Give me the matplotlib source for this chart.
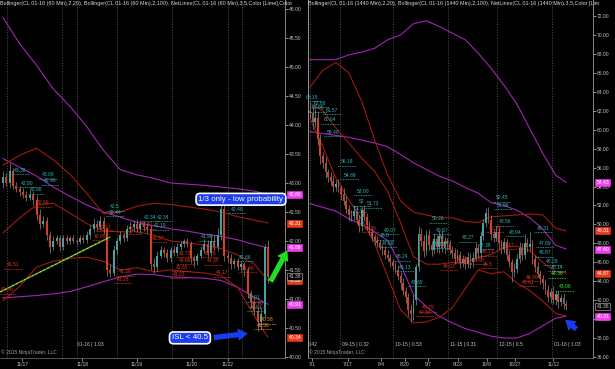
import matplotlib
matplotlib.use("Agg")
import matplotlib.pyplot as plt
import numpy as np

plt.rcParams["font.family"] = ["Liberation Sans", "DejaVu Sans"]

UP = "#46a2a2"
DN = "#cf4229"
WICK = "#8c8c8c"
BB20 = "#a01a10"
BB100 = "#a424b4"
CYAN = "#2fb2b2"
RED = "#e2331f"
LIME = "#33ee33"
ORANGE = "#e89a20"
GRAY = "#c4c4c4"
MAG_TAG = "#f040f0"
RED_TAG = "#ee3a1c"
FS = 3.6

# ---------------- 60 min chart (left) ----------------
h1_open0 = 43.00
h1_close = [43.10, 43.00, 43.20, 42.95, 42.90, 42.85, 42.80, 42.75, 42.80, 42.70,
            42.45, 42.30, 42.35, 42.10, 41.90, 42.00, 42.05, 41.90, 42.05, 42.00,
            42.05, 42.00, 41.98, 42.05, 42.02, 42.10, 42.20, 42.30, 42.25, 42.35,
            42.20, 41.50, 41.45, 41.85, 42.00, 42.10, 42.05, 42.20, 42.25, 42.30,
            42.20, 42.30, 42.25, 42.20, 41.60, 41.55, 41.75, 41.85, 41.80, 41.70,
            41.85, 41.80, 41.90, 41.95, 42.00, 41.95, 41.70, 41.65, 41.75, 41.85,
            41.95, 41.80, 42.00, 41.90, 42.10, 42.55, 41.75, 41.70, 41.60, 41.65,
            41.55, 41.60, 41.50, 41.10, 40.95, 40.80, 40.60, 40.75, 41.90, 41.38]
h1_wick_up = [0.10, 0.08, 0.14, 0.06, 0.07, 0.05, 0.07, 0.06, 0.08, 0.06,
              0.10, 0.10, 0.08, 0.06, 0.08, 0.08, 0.06, 0.05, 0.06, 0.05,
              0.04, 0.05, 0.04, 0.06, 0.05, 0.08, 0.08, 0.10, 0.06, 0.08,
              0.06, 0.05, 0.10, 0.08, 0.06, 0.08, 0.05, 0.07, 0.08, 0.06,
              0.08, 0.06, 0.05, 0.06, 0.08, 0.10, 0.08, 0.06, 0.05, 0.06,
              0.05, 0.06, 0.06, 0.05, 0.04, 0.06, 0.05, 0.06, 0.05, 0.06,
              0.08, 0.06, 0.08, 0.10, 0.12, 0.10, 0.08, 0.06, 0.08, 0.05,
              0.06, 0.05, 0.04, 0.06, 0.05, 0.08, 0.06, 0.10, 0.05, 0.12]
h1_wick_dn = [0.08, 0.06, 0.08, 0.05, 0.06, 0.07, 0.05, 0.06, 0.05, 0.08,
              0.08, 0.10, 0.06, 0.08, 0.10, 0.06, 0.05, 0.08, 0.05, 0.06,
              0.05, 0.04, 0.05, 0.04, 0.06, 0.05, 0.06, 0.05, 0.08, 0.06,
              0.08, 0.10, 0.07, 0.06, 0.08, 0.05, 0.06, 0.05, 0.06, 0.08,
              0.05, 0.06, 0.08, 0.06, 0.10, 0.10, 0.06, 0.05, 0.08, 0.06,
              0.06, 0.05, 0.06, 0.05, 0.06, 0.05, 0.08, 0.10, 0.06, 0.05,
              0.06, 0.08, 0.05, 0.06, 0.08, 0.08, 0.10, 0.06, 0.08, 0.06,
              0.05, 0.06, 0.10, 0.08, 0.10, 0.08, 0.15, 0.12, 0.08, 0.10]

h1_band_x = [0, 5, 10, 15, 20, 25, 30, 35, 40, 45, 50, 55, 60, 65, 70, 75, 79]
h1_bb100_up = [45.85, 45.40, 45.03, 44.62, 44.32, 43.97, 43.56, 43.23, 43.14, 43.08,
               43.00, 42.98, 42.96, 42.93, 42.90, 42.86, 42.80]
h1_bb100_mid = [43.42, 43.27, 43.12, 42.93, 42.77, 42.62, 42.50, 42.41, 42.32, 42.26,
                42.21, 42.17, 42.12, 42.08, 42.02, 41.94, 41.88]
h1_bb100_lo = [41.02, 41.04, 41.06, 41.09, 41.13, 41.21, 41.30, 41.38, 41.43, 41.42,
               41.38, 41.37, 41.36, 41.32, 41.20, 41.03, 40.91]
h1_bb20_up = [43.31, 43.48, 43.60, 43.40, 43.15, 42.82, 42.47, 42.50, 42.60, 42.65,
              42.63, 42.59, 42.55, 42.50, 42.42, 42.36, 42.31]
h1_bb20_mid = [42.14, 42.40, 42.62, 42.65, 42.48, 42.30, 42.18, 42.16, 42.16, 42.10,
               42.00, 41.97, 41.93, 41.87, 41.76, 41.60, 41.32]
h1_bb20_lo = [40.97, 41.22, 41.55, 41.65, 41.70, 41.72, 41.65, 41.50, 41.54, 41.47,
              41.50, 41.47, 41.45, 41.40, 41.20, 40.70, 40.34]

h1_trend_x = [-0.9, 32.0]
h1_trend_y = [41.12, 42.07]

h1_labels = [
    (5.1, 43.22, "43.38", CYAN), (13.4, 43.14, "43.06", CYAN), (14.0, 43.04, "42.96", CYAN),
    (7.2, 43.00, "42.80", CYAN), (10.0, 42.88, "42.88", CYAN), (33.4, 42.59, "42.5", CYAN),
    (33.4, 42.50, "42.44", CYAN), (43.8, 42.41, "42.34", CYAN), (47.9, 42.41, "42.34", CYAN),
    (46.8, 42.26, "42.19", CYAN), (69.8, 42.55, "42.48", CYAN), (60.8, 42.07, "41.98", CYAN),
    (72.2, 41.72, "41.66", CYAN), (75.5, 40.86, "40.81", CYAN), (75.0, 41.02, "40.91", CYAN),
    (11.9, 42.66, "42.66", RED), (3.0, 41.59, "41.51", RED), (1.4, 41.16, "41.09", RED),
    (30.4, 42.24, "42.17", RED), (42.9, 42.28, "42.31", RED), (38.8, 42.19, "42", RED),
    (46.2, 42.05, "41.97", RED), (54.3, 41.79, "41.73", RED), (54.3, 41.67, "41.69", RED),
    (53.4, 41.55, "41.65", RED), (52.4, 41.43, "41.63", RED), (36.4, 41.47, "41.39", RED),
    (35.8, 41.34, "41.28", RED), (61.7, 41.79, "41.79", RED), (62.6, 41.66, "41.35", RED),
    (65.3, 41.45, "41.17", RED), (73.0, 41.53, "41.46", RED), (75.7, 40.93, "40.96", RED),
    (29.0, 42.08, "42.09", RED),
    (78.7, 40.64, "40.58", ORANGE), (77.5, 40.55, "40.56", ORANGE),
]
h1_tags = [(42.80, "42.80", MAG_TAG), (42.31, "42.31", RED_TAG), (41.88, "41.88", MAG_TAG),
           (41.32, "41.32", RED_TAG), (40.91, "40.91", MAG_TAG), (40.34, "40.34", RED_TAG)]
h1_last = 41.38
h1_xtick_pos = [5.7, 23.6, 40.0, 56.4, 67.1]
h1_xtick_lab = ["11/17", "11/18", "11/19", "11/20", "11/22"]
h1_grid = [1.2, 17.6, 22.1, 34.0, 50.4, 67.1, 71.3]
h1_rolls = [(22.1, "01-16 | 1.03")]

# ---------------- daily chart (right) ----------------
d1_open0 = 62.0
d1_close = [61.8, 60.8, 61.2, 59.0, 57.2, 56.5, 55.5, 55.0, 54.6, 54.0,
            54.3, 53.8, 53.2, 52.5, 51.6, 51.0, 50.9, 51.4, 50.5, 49.8,
            51.5, 50.8, 49.9, 49.2, 48.7, 48.3, 48.0, 47.6, 47.3, 46.8,
            46.5, 46.0, 45.6, 45.2, 44.6, 43.8, 43.0, 42.3, 41.0, 40.5,
            42.0, 45.5, 49.0, 48.2, 47.2, 48.9, 47.8, 47.3, 48.5, 47.6,
            48.8, 47.5, 48.2, 47.9, 47.3, 47.0, 46.4, 46.8, 45.9, 46.3,
            45.8, 46.6, 46.0, 46.5, 47.5, 47.0, 48.8, 50.2, 51.2, 50.5,
            49.0, 48.6, 49.2, 48.0, 47.4, 48.1, 46.8, 46.0, 45.0, 45.3,
            46.4, 47.5, 46.8, 48.0, 47.6, 47.9, 46.4, 45.5, 44.8, 44.2,
            43.8, 43.1, 42.3, 42.9, 42.0, 42.6, 41.8, 42.2, 41.6, 41.38]
d1_wick_up = [0.7, 0.6, 1.0, 0.8, 0.6, 0.5, 0.6, 0.4, 0.5, 0.6,
              0.4, 0.5, 0.4, 0.6, 0.5, 0.4, 0.5, 0.6, 0.4, 0.5,
              0.3, 0.5, 0.4, 0.5, 0.4, 0.3, 0.5, 0.4, 0.3, 0.4,
              0.5, 0.4, 0.3, 0.4, 0.5, 0.4, 0.5, 0.4, 0.5, 0.6,
              0.5, 0.3, 0.8, 0.6, 0.7, 0.5, 0.6, 0.5, 0.6, 0.4,
              0.5, 0.6, 0.5, 0.4, 0.5, 0.4, 0.5, 0.6, 0.4, 0.5,
              0.4, 0.5, 0.4, 0.6, 0.5, 0.4, 0.5, 0.4, 0.5, 0.6,
              0.5, 0.4, 0.6, 0.5, 0.4, 0.5, 0.4, 0.5, 0.4, 0.6,
              0.5, 0.6, 0.5, 1.0, 0.6, 1.3, 0.5, 0.4, 0.5, 0.4,
              0.5, 0.4, 0.5, 0.4, 0.6, 0.5, 0.4, 0.5, 0.6, 0.4]
d1_wick_dn = [0.6, 0.7, 0.5, 0.6, 0.8, 0.5, 0.6, 0.5, 0.4, 0.6,
              0.5, 0.4, 0.6, 0.5, 0.4, 0.6, 0.5, 0.4, 0.5, 0.6,
              0.5, 0.4, 0.5, 0.3, 0.4, 0.5, 0.4, 0.3, 0.5, 0.4,
              0.4, 0.5, 0.4, 0.3, 0.5, 0.6, 0.5, 0.6, 0.7, 0.8,
              0.6, 0.5, 0.4, 0.5, 0.6, 0.4, 0.5, 0.6, 0.4, 0.5,
              0.6, 0.4, 0.5, 0.6, 0.4, 0.5, 0.6, 0.4, 0.5, 0.4,
              0.5, 0.4, 0.6, 0.5, 0.4, 0.5, 0.6, 0.4, 0.5, 0.4,
              0.6, 0.5, 0.4, 0.6, 0.5, 0.4, 0.6, 0.5, 1.1, 0.5,
              0.4, 0.5, 0.6, 0.4, 0.5, 0.4, 0.6, 0.5, 0.4, 0.5,
              0.6, 0.4, 0.5, 0.6, 0.4, 0.5, 0.6, 0.4, 0.5, 0.4]

d1_band_x = [0, 5, 10, 15, 20, 25, 30, 35, 40, 45, 50, 55, 60, 65, 70, 75, 80, 85, 90, 95, 99]
d1_bb100_up = [67.4, 67.4, 67.4, 67.9, 68.2, 68.6, 69.5, 70.0, 71.2, 71.5, 70.9,
               70.2, 69.5, 68.1, 66.5, 64.7, 62.7, 60.1, 57.5, 55.2, 54.43]
d1_bb100_mid = [59.8, 59.6, 59.4, 59.2, 58.9, 58.6, 58.2, 57.4, 56.5, 55.8, 55.1,
                54.6, 53.9, 53.3, 52.3, 52.0, 51.5, 50.7, 49.5, 47.8, 47.40]
d1_bb100_lo = [52.2, 51.8, 51.4, 50.6, 50.0, 49.2, 48.3, 45.8, 42.6, 41.3, 40.3,
               39.6, 39.0, 38.6, 38.2, 38.0, 38.0, 38.5, 39.3, 40.1, 40.31]
d1_bb20_up = [64.5, 66.3, 67.1, 66.0, 63.0, 58.9, 55.2, 52.5, 51.3, 51.0, 50.7,
              50.7, 50.3, 50.2, 50.8, 50.9, 51.0, 51.1, 51.0, 49.6, 49.31]
d1_bb20_mid = [62.8, 62.0, 60.2, 58.6, 57.0, 55.6, 53.5, 50.2, 46.6, 45.8, 45.8,
               46.0, 46.0, 46.5, 46.8, 47.6, 47.7, 47.2, 46.0, 45.0, 44.87]
d1_bb20_lo = [61.2, 58.2, 54.9, 52.6, 50.5, 48.0, 44.5, 41.0, 39.6, 39.7, 40.2,
              41.2, 43.2, 45.2, 44.8, 45.0, 43.8, 43.0, 41.9, 40.6, 40.30]

d1_labels = [
    (0.8, 63.45, "63.15", CYAN), (3.9, 62.82, "62.88", CYAN), (3.1, 62.30, "61.96", CYAN),
    (8.5, 62.08, "61.57", CYAN), (7.7, 61.03, "60.64", CYAN), (8.9, 59.76, "59.46", CYAN),
    (14.3, 56.60, "56.19", CYAN), (15.5, 55.20, "54.89", CYAN), (20.5, 53.50, "53.00", CYAN),
    (20.1, 52.40, "52", CYAN), (24.4, 52.20, "51.73", CYAN), (18.6, 51.70, "51.2", CYAN),
    (30.9, 49.40, "49.07", CYAN), (29.0, 48.80, "48.6", CYAN), (30.2, 48.00, "47.68", CYAN),
    (35.6, 46.56, "46.24", CYAN), (36.7, 45.50, "46.13", CYAN), (41.4, 43.90, "43.65", CYAN),
    (49.5, 50.60, "50.26", CYAN), (51.0, 49.40, "49.57", CYAN), (51.0, 48.60, "48", CYAN),
    (50.3, 47.90, "47.86", CYAN), (61.1, 48.60, "48.27", CYAN), (67.7, 47.80, "47.38", CYAN),
    (74.2, 52.80, "52.45", CYAN), (74.6, 52.05, "51.96", CYAN), (75.4, 50.30, "48.56", CYAN),
    (79.3, 49.20, "48.94", CYAN), (90.1, 49.60, "49.31", CYAN), (90.9, 48.00, "47.89", CYAN),
    (90.9, 47.00, "46.87", CYAN), (93.6, 46.10, "46.29", CYAN), (95.5, 45.50, "45.14", CYAN),
    (95.5, 44.80, "44.36", LIME), (98.6, 43.40, "43.06", LIME),
    (23.2, 49.60, "49.29", RED), (45.6, 41.20, "40.79", RED), (44.5, 40.75, "40.56", RED),
    (71.5, 49.60, "48.23", RED), (76.6, 47.80, "47.47", RED), (68.8, 47.10, "46.71", RED),
    (68.8, 45.80, "46.5", RED), (65.0, 46.20, "46.40", RED), (59.2, 46.30, "46.20", RED),
    (53.8, 45.60, "46.03", RED), (85.8, 44.40, "44.09", RED), (84.3, 43.90, "43.61", RED),
]
d1_tags = [(54.43, "54.43", MAG_TAG), (49.31, "49.31", RED_TAG), (47.40, "47.40", MAG_TAG),
           (44.87, "44.87", RED_TAG), (40.31, "40.31", MAG_TAG)]
d1_last = 41.38
d1_xtick_pos = [0.8, 14.7, 27.5, 36.7, 45.6, 57.2, 68.4, 79.3, 94.0]
d1_xtick_lab = ["7/1", "7/17", "8/4", "8/20", "9/7", "9/23", "10/9", "10/27", "11/12"]
d1_grid = [0.0, 11.6, 32.1, 53.4, 72.3, 93.6]
d1_rolls = [(-0.7, "0.42"), (12.4, "09-15 | 0.32"), (32.9, "10-15 | 0.53"),
            (54.2, "11-15 | 0.31"), (73.1, "12-15 | 0.5"), (94.4, "01-16 | 1.03")]

# header texts are cut at the panel edge in the original, keep only the visible part
title_h1 = ("Bollinger(CL 01-16 (60 Min),2,20), Bollinger(CL 01-16 (60 Min),2,100), "
            "NetLines(CL 01-16 (60 Min),3,5,Color [Lime],Color")
title_d1 = ("Bollinger(CL 01-16 (1440 Min),2,20), Bollinger(CL 01-16 (1440 Min),2,100), "
            "NetLines(CL 01-16 (1440 Min),3,5,Color [Lim")

ARROW = "simple,head_length=0.7,head_width=0.9,tail_width=0.38"


def candles(ax, open0, closes, wup, wdn, width, minh):
    c = np.array(closes)
    o = np.concatenate([[open0], c[:-1]])
    x = np.arange(len(c))
    top = np.maximum(o, c)
    bot = np.minimum(o, c)
    ax.vlines(x, bot - np.array(wdn), top + np.array(wup), color=WICK, lw=0.5, zorder=3)
    cols = [UP if cc >= oo else DN for oo, cc in zip(o, c)]
    ax.bar(x, np.maximum(top - bot, minh), bottom=bot, width=width, color=cols,
           linewidth=0, zorder=4)


def netlabels(ax, labels, hw, dy):
    for x, y, txt, col in labels:
        ax.text(x, y, txt, color=col, fontsize=FS, ha="center", va="center", zorder=6)
        ax.plot([x - hw, x + hw], [y - dy, y - dy], color=col, lw=0.6,
                ls=(0, (1, 1)), zorder=6)


def tags(ax, items, last):
    tr = ax.get_yaxis_transform()
    for y, txt, fc in items:
        ax.text(1.012, y, txt, transform=tr, fontsize=FS, color="white", ha="left",
                va="center", zorder=10, clip_on=False,
                bbox=dict(boxstyle="square,pad=0.2", fc=fc, ec=fc, lw=0.4))
    ax.text(1.012, last, f"{last:.2f}", transform=tr, fontsize=FS, color=GRAY, ha="left",
            va="center", zorder=11, clip_on=False,
            bbox=dict(boxstyle="square,pad=0.2", fc="black", ec=GRAY, lw=0.4))


def frame(ax, ylo, yhi, step, xlim, xpos, xlab, grid, rolls, title):
    ax.set_facecolor("black")
    ax.set_xlim(*xlim)
    ax.set_ylim(ylo, yhi)
    ticks = np.arange(np.ceil(ylo / step) * step, yhi, step)
    ax.yaxis.tick_right()
    ax.set_yticks(ticks, [f"{t:.2f}" for t in ticks])
    ax.set_xticks(xpos, xlab)
    ax.tick_params(axis="both", colors=GRAY, labelsize=FS, length=2, width=0.5, pad=1)
    for s in ["top", "left"]:
        ax.spines[s].set_visible(False)
    ax.spines["right"].set_color("#9a9a9a")
    ax.spines["bottom"].set_color("#606060")
    for s in ["right", "bottom"]:
        ax.spines[s].set_linewidth(0.6)
    for g in grid:
        ax.axvline(g, color="#5a5a5a", lw=0.5, ls=(0, (2, 2)), zorder=1)
    for x, txt in rolls:
        ax.text(x, ylo + (yhi - ylo) * 0.03, txt, color=GRAY, fontsize=FS, ha="left",
                va="bottom", zorder=5, clip_on=True)
    ax.text(0.004, 0.008, "\u00a9 2015 NinjaTrader, LLC", transform=ax.transAxes,
            color="#a0a0a0", fontsize=FS, ha="left", va="bottom", zorder=5)
    ax.text(0.0, 0.998, title, transform=ax.transAxes, color="#d8d8d8", fontsize=3.85,
            ha="left", va="top", zorder=5)


fig = plt.figure(figsize=(6.15, 3.69), dpi=100, facecolor="black")
axl = fig.add_axes([0.0, 11 / 369, 285 / 615, 358 / 369])
axr = fig.add_axes([308 / 615, 11 / 369, 285 / 615, 358 / 369])

# left panel
frame(axl, 39.983, 46.155, 0.5, (-0.9, 84.1), h1_xtick_pos, h1_xtick_lab, h1_grid,
      h1_rolls, title_h1)
axl.plot(h1_band_x, h1_bb100_up, color=BB100, lw=0.8, zorder=2)
axl.plot(h1_band_x, h1_bb100_mid, color=BB100, lw=0.8, zorder=2)
axl.plot(h1_band_x, h1_bb100_lo, color=BB100, lw=0.8, zorder=2)
axl.plot(h1_band_x, h1_bb20_up, color=BB20, lw=0.8, zorder=2)
axl.plot(h1_band_x, h1_bb20_mid, color=BB20, lw=0.8, zorder=2)
axl.plot(h1_band_x, h1_bb20_lo, color=BB20, lw=0.8, zorder=2)
candles(axl, h1_open0, h1_close, h1_wick_up, h1_wick_dn, 0.6, 0.015)
axl.plot(h1_trend_x, h1_trend_y, color="#d8e830", lw=0.9, ls=(0, (2, 1.5)), zorder=5)
axl.plot(h1_trend_x, h1_trend_y, color="#50d020", lw=0.9, ls=(2, (2, 1.5)), zorder=5)
netlabels(axl, h1_labels, 2.6, 0.07)
tags(axl, h1_tags, h1_last)

axl.annotate("", xy=(85.2, 41.88), xytext=(79.4, 41.26), annotation_clip=False,
             arrowprops=dict(arrowstyle=ARROW, mutation_scale=10, color="#22dd22", lw=0),
             zorder=8)
axl.annotate("", xy=(73.8, 40.41), xytext=(62.0, 40.33),
             arrowprops=dict(arrowstyle=ARROW, mutation_scale=10, color="#1a3cf0", lw=0),
             zorder=8)
box = dict(boxstyle="round,pad=0.3,rounding_size=0.5", fc="#1c3cf0", ec="white", lw=1.2)
axl.text(70.96, 42.72, "1/3 only - low probability", color="white", fontsize=5.7,
         ha="center", va="center", bbox=box, zorder=9)
axl.text(55.75, 40.33, "ISL < 40.5", color="white", fontsize=5.7, ha="center",
         va="center", bbox=box, zorder=9)

# right panel
frame(axr, 35.894, 73.70, 2.0, (-0.77, 109.4), d1_xtick_pos, d1_xtick_lab, d1_grid,
      d1_rolls, title_d1)
axr.spines["left"].set_visible(True)
axr.spines["left"].set_color("#b0b0b0")
axr.spines["left"].set_linewidth(0.6)
axr.plot(d1_band_x, d1_bb100_up, color=BB100, lw=0.8, zorder=2)
axr.plot(d1_band_x, d1_bb100_mid, color=BB100, lw=0.8, zorder=2)
axr.plot(d1_band_x, d1_bb100_lo, color=BB100, lw=0.8, zorder=2)
axr.plot(d1_band_x, d1_bb20_up, color=BB20, lw=0.8, zorder=2)
axr.plot(d1_band_x, d1_bb20_mid, color=BB20, lw=0.8, zorder=2)
axr.plot(d1_band_x, d1_bb20_lo, color=BB20, lw=0.8, zorder=2)
candles(axr, d1_open0, d1_close, d1_wick_up, d1_wick_dn, 0.65, 0.1)
netlabels(axr, d1_labels, 3.4, 0.42)
tags(axr, d1_tags, d1_last)
axr.annotate("", xy=(97.8, 40.12), xytext=(103.8, 38.75),
             arrowprops=dict(arrowstyle=ARROW, mutation_scale=10, color="#1a3cf0", lw=0),
             zorder=8)

fig.savefig("out.png", dpi=100, facecolor="black")
